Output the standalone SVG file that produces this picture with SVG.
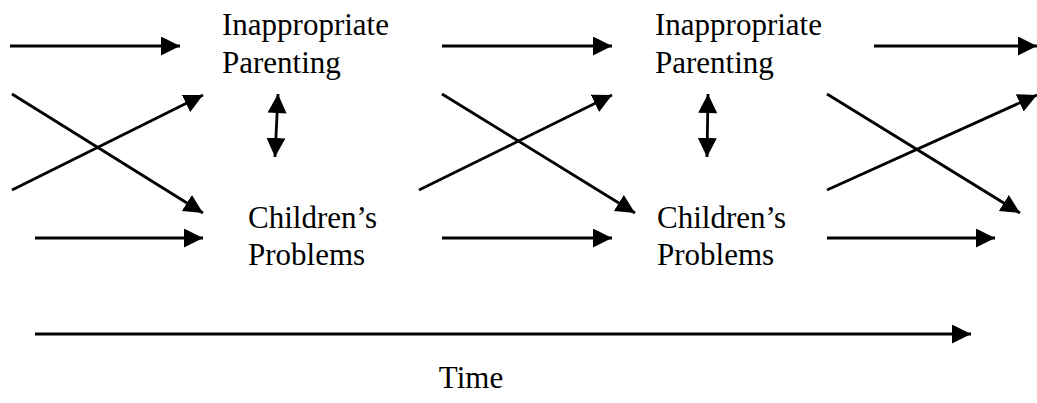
<svg xmlns="http://www.w3.org/2000/svg" width="1037" height="403" viewBox="0 0 1037 403">
<style>
.lbl{font-family:"Liberation Serif","Times New Roman",serif;font-size:31px;fill:#000}
.c line{stroke:#000;stroke-width:2.8;fill:none}
.a{marker-end:url(#ah)}
.d{marker-start:url(#ahs);marker-end:url(#ah)}
</style>
<defs>
<marker id="ah" markerUnits="userSpaceOnUse" markerWidth="22" markerHeight="22" refX="19" refY="9.5" orient="auto"><path d="M0,0 L19,9.5 L0,19 z" fill="#000"/></marker>
<marker id="ahs" markerUnits="userSpaceOnUse" markerWidth="22" markerHeight="22" refX="0" refY="9.5" orient="auto"><path d="M19,0 L0,9.5 L19,19 z" fill="#000"/></marker>
</defs>
<rect width="1037" height="403" fill="#fff"/>
<g id="parenting1"><text class="lbl" x="222" y="35">Inappropriate</text><text class="lbl" x="222" y="73">Parenting</text></g>
<g id="children1"><text class="lbl" x="248" y="228">Children’s</text><text class="lbl" x="248" y="265">Problems</text></g>
<g id="parenting2"><text class="lbl" x="655" y="35">Inappropriate</text><text class="lbl" x="655" y="73">Parenting</text></g>
<g id="children2"><text class="lbl" x="657" y="228">Children’s</text><text class="lbl" x="657" y="265">Problems</text></g>
<g id="time"><text class="lbl" x="471" y="388" text-anchor="middle">Time</text></g>
<g id="connectors" class="c">
<line class="a" x1="10" y1="46" x2="180" y2="46"/>
<line class="a" x1="12" y1="94" x2="203" y2="213"/>
<line class="a" x1="12" y1="190" x2="203" y2="95"/>
<line class="a" x1="35" y1="238" x2="203" y2="238"/>
<line class="d" x1="278" y1="94" x2="275" y2="157"/>
<line class="a" x1="442" y1="46" x2="612" y2="46"/>
<line class="a" x1="442" y1="94" x2="635" y2="213"/>
<line class="a" x1="419" y1="190" x2="612" y2="95"/>
<line class="a" x1="442" y1="238" x2="612" y2="238"/>
<line class="d" x1="708" y1="94" x2="707" y2="157"/>
<line class="a" x1="874" y1="46" x2="1037" y2="46"/>
<line class="a" x1="827" y1="94" x2="1020" y2="213"/>
<line class="a" x1="827" y1="190" x2="1037" y2="95"/>
<line class="a" x1="827" y1="238" x2="995" y2="238"/>
<line class="a" x1="35" y1="334" x2="971" y2="334"/>
</g>
</svg>
